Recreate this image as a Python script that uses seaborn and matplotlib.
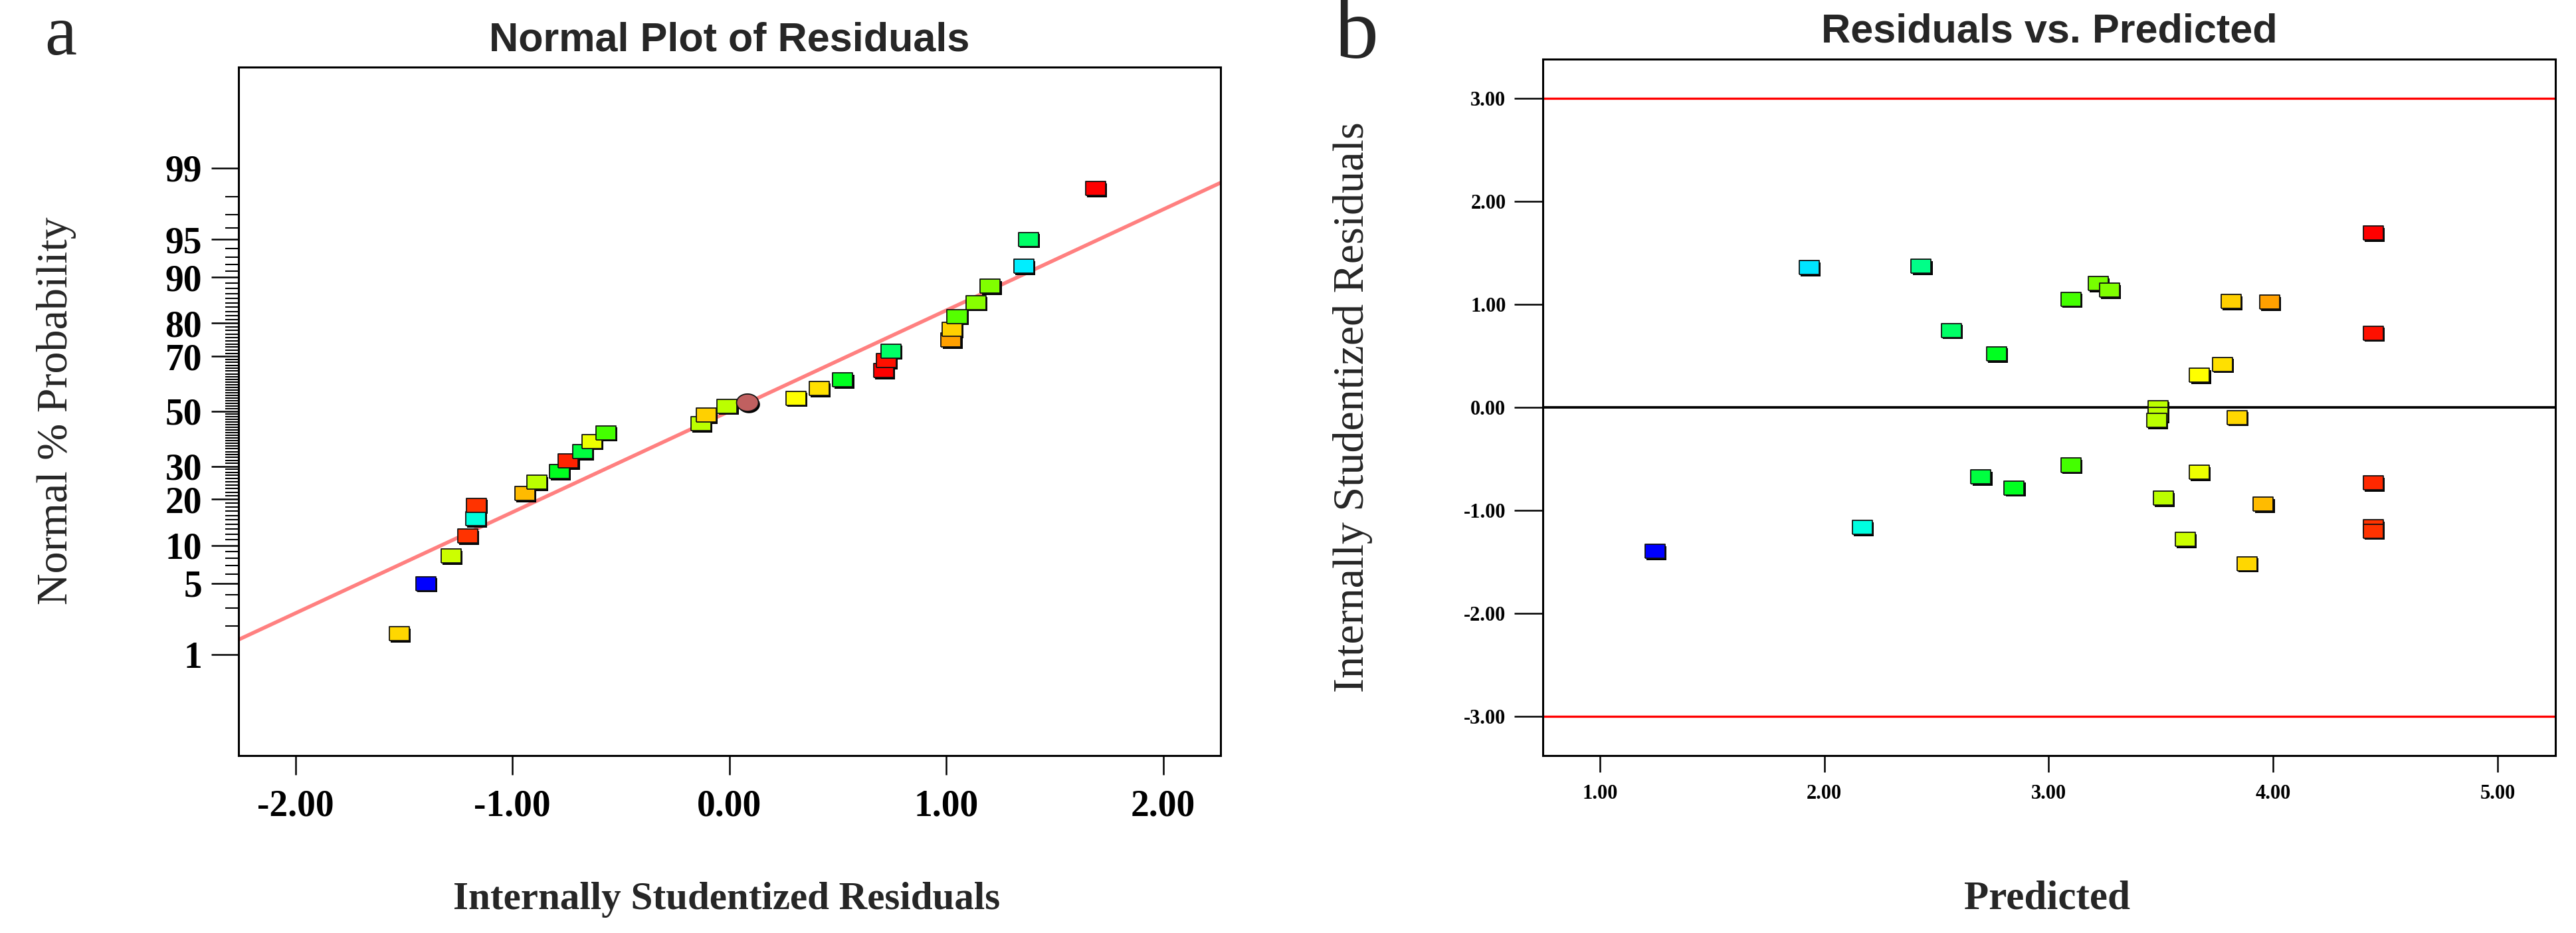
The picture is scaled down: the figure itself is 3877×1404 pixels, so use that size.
import statistics
import numpy as np
import pandas as pd
import matplotlib
matplotlib.use("Agg")
import matplotlib.pyplot as plt
import matplotlib.patheffects as pe
from matplotlib.markers import MarkerStyle
from matplotlib.ticker import NullFormatter
import seaborn as sns

# ---------------- data ----------------
# panel a : normal probability plot (residual, normal % probability, colour)
resid_a = [-1.521, -1.399, -1.283, -1.205, -1.170, -1.166, -0.942, -0.887,
           -0.783, -0.742, -0.675, -0.632, -0.569, -0.132, -0.106, -0.010,
           0.308, 0.415, 0.523, 0.711, 0.723, 0.745, 1.022, 1.026,
           1.050, 1.138, 1.203, 1.358, 1.379, 1.687]
prob_a = [1.67, 4.99, 8.33, 11.7, 15.2, 18.5, 21.6, 24.95,
          28.3, 31.8, 35.05, 38.7, 41.9, 45.3, 48.6, 52.0,
          55.0, 58.6, 61.8, 65.2, 68.7, 71.8, 75.2, 78.4,
          81.8, 85.1, 88.4, 91.7, 95.0, 98.35]
colors_a = ["#FFD700", "#0000FF", "#CCFF00", "#FF3300", "#00FFDD", "#FF3300",
            "#FFBB00", "#BBFF00", "#00FF20", "#FF2200", "#00FF40", "#EEFF00",
            "#44FF00", "#BBFF00", "#FFD000", "#BBFF00", "#FFFF00", "#FFE000",
            "#00FF20", "#FF0000", "#FF1000", "#00FF66", "#FFA000", "#FFD000",
            "#55FF00", "#88FF00", "#80FF00", "#00EEFF", "#00FF66", "#FF0000"]
circle_resid = [0.084]
circle_prob = [53.3]
circle_color = "#C06060"
fit_slope = 0.965
fit_intercept = 0.0

# panel b : residuals vs predicted
pred_b = [1.245, 1.933, 2.169, 2.431, 2.567, 2.768, 2.698, 2.846,
          3.100, 3.100, 3.220, 3.270, 3.487, 3.487, 3.482, 3.510,
          3.608, 3.672, 3.670, 3.774, 3.813, 3.840, 3.883, 3.984,
          3.956, 4.447, 4.447, 4.447, 4.447, 4.447]
resid_b = [-1.397, 1.359, -1.166, 1.371, 0.748, 0.522, -0.672, -0.780,
           1.051, -0.560, 1.201, 1.139, 0.000, -0.067, -0.125, -0.881,
           -1.279, 0.311, -0.630, 0.419, 1.027, -0.097, -1.515, 1.021,
           -0.939, 1.692, 0.722, -0.733, -1.157, -1.199]
colors_b = ["#0000FF", "#00E5FF", "#00FFE0", "#00FF88", "#00FF66", "#00FF20",
            "#00FF40", "#00FF20", "#44FF00", "#44FF00", "#77FF00", "#80FF00",
            "#BBFF00", "#BBFF00", "#BBFF00", "#BBFF00", "#CCFF00", "#FFFF00",
            "#EEFF00", "#FFE000", "#FFD000", "#FFD700", "#FFD700", "#FFA000",
            "#FFBB00", "#FF0000", "#FF1000", "#FF2800", "#FF3300", "#FF3300"]
limit_lines = [-3.0, 3.0]

prob_ticks = [1, 5, 10, 20, 30, 50, 70, 80, 90, 95, 99]
x_ticks_a = [-2.0, -1.0, 0.0, 1.0, 2.0]
x_ticks_b = [1.0, 2.0, 3.0, 4.0, 5.0]
y_ticks_b = [-3.0, -2.0, -1.0, 0.0, 1.0, 2.0, 3.0]

# ---------------- style ----------------
sns.set_style("white")
SERIF = ["Liberation Serif", "DejaVu Serif"]
SANS = ["Liberation Sans Narrow", "Liberation Sans", "DejaVu Sans"]
plt.rcParams["font.family"] = SERIF
plt.rcParams["axes.edgecolor"] = "black"
plt.rcParams["axes.linewidth"] = 2.2
plt.rcParams["xtick.color"] = "black"
plt.rcParams["ytick.color"] = "black"

# probit scale for the normal plot
nd = statistics.NormalDist()
_ppf = np.vectorize(nd.inv_cdf, otypes=[float])
_cdf = np.vectorize(nd.cdf, otypes=[float])


def to_z(p):
    p = np.clip(np.asarray(p, dtype=float), 1e-9, 100 - 1e-9)
    return _ppf(p / 100.0)


def to_p(z):
    return _cdf(np.asarray(z, dtype=float)) * 100.0


# rectangular marker with black edge and drop shadow
rect_marker = MarkerStyle([(-1, -0.7), (1, -0.7), (1, 0.7), (-1, 0.7), (-1, -0.7)])
t = np.linspace(0, 2 * np.pi, 60)
ellipse_marker = MarkerStyle(list(zip(np.cos(t), 0.79 * np.sin(t))))
shadow = [pe.SimplePatchShadow(offset=(1.6, -2.0), shadow_rgbFace="black", alpha=1.0),
          pe.Normal()]

fig = plt.figure(figsize=(38.77, 14.04), dpi=100, facecolor="w")
ax_a = fig.add_axes([0.0926, 0.1902, 0.3812, 0.7379])
ax_b = fig.add_axes([0.5989, 0.1902, 0.3931, 0.7467])

### a : Normal Plot of Residuals ###
xlim_a = (-2.262, 2.264)
ax_a.set_yscale("function", functions=(to_z, to_p))
ax_a.set_xlim(*xlim_a)
ax_a.set_ylim(0.05, 99.95)

x_line = np.array(xlim_a)
p_line = to_p(fit_intercept + fit_slope * x_line)
ax_a.plot(x_line, p_line, color="#FF8080", lw=4.0, zorder=2, solid_capstyle="butt")

df_a = pd.DataFrame({"resid": resid_a, "prob": prob_a,
                     "pt": [f"a{i}" for i in range(len(resid_a))]})
sns.scatterplot(data=df_a, x="resid", y="prob", hue="pt",
                palette=dict(zip(df_a["pt"], colors_a)), marker=rect_marker,
                s=467, edgecolor="#111111", linewidth=1.3, legend=False,
                ax=ax_a, zorder=3)
ax_a.collections[-1].set_path_effects(shadow)
sns.scatterplot(x=circle_resid, y=circle_prob, color=circle_color,
                marker=ellipse_marker, s=566, edgecolor="#111111", linewidth=1.3,
                legend=False, ax=ax_a, zorder=4)
ax_a.collections[-1].set_path_effects(shadow)

ax_a.set_xticks(x_ticks_a, labels=[f"{v:.2f}" for v in x_ticks_a],
                fontsize=40, fontweight="bold")
ax_a.set_yticks(prob_ticks, labels=[str(p) for p in prob_ticks],
                fontsize=40, fontweight="bold")
ax_a.set_yticks([v for v in range(1, 100) if v not in prob_ticks], minor=True)
ax_a.yaxis.set_minor_formatter(NullFormatter())
ax_a.tick_params(axis="x", direction="out", length=20.6, width=1.8, pad=16,
                 bottom=True)
ax_a.tick_params(axis="y", which="major", direction="out", length=29.5,
                 width=1.8, pad=10, left=True)
ax_a.tick_params(axis="y", which="minor", direction="out", length=14.4,
                 width=1.5, left=True)

ax_a.set_title("Normal Plot of Residuals", fontsize=44, fontweight="bold",
               family=SANS, y=1.0154, va="baseline")
ax_a.set_xlabel("Internally Studentized Residuals", fontsize=42.5,
                fontweight="bold", va="baseline")
ax_a.xaxis.set_label_coords(0.497, -0.223)
ax_a.set_ylabel("Normal % Probability", fontsize=47.5, va="center")
ax_a.yaxis.set_label_coords(-0.1854, 0.501)

### b : Residuals vs. Predicted ###
ax_b.set_xlim(0.745, 5.258)
ax_b.set_ylim(-3.378, 3.383)
for v in limit_lines:
    ax_b.axhline(v, color="#FF0000", lw=2.4, zorder=2)
ax_b.axhline(0.0, color="black", lw=2.7, zorder=2)

df_b = pd.DataFrame({"pred": pred_b, "resid": resid_b,
                     "pt": [f"b{i}" for i in range(len(pred_b))]})
sns.scatterplot(data=df_b, x="pred", y="resid", hue="pt",
                palette=dict(zip(df_b["pt"], colors_b)), marker=rect_marker,
                s=467, edgecolor="#111111", linewidth=1.3, legend=False,
                ax=ax_b, zorder=3)
ax_b.collections[-1].set_path_effects(shadow)

ax_b.set_xticks(x_ticks_b, labels=[f"{v:.2f}" for v in x_ticks_b],
                fontsize=22, fontweight="bold")
ax_b.set_yticks(y_ticks_b, labels=[f"{v:.2f}" for v in y_ticks_b],
                fontsize=22, fontweight="bold")
ax_b.tick_params(axis="x", direction="out", length=18, width=1.8, pad=13,
                 bottom=True)
ax_b.tick_params(axis="y", direction="out", length=31, width=1.8, pad=9,
                 left=True)

ax_b.set_title("Residuals vs. Predicted", fontsize=44, fontweight="bold",
               family=SANS, y=1.0162, va="baseline")
ax_b.set_xlabel("Predicted", fontsize=44, fontweight="bold", va="baseline")
ax_b.xaxis.set_label_coords(0.498, -0.2203)
ax_b.set_ylabel("Internally Studentized Residuals", fontsize=47.5, va="center")
ax_b.yaxis.set_label_coords(-0.1877, 0.5)

for ax in (ax_a, ax_b):
    for sp in ax.spines.values():
        sp.set_visible(True)
        sp.set_color("black")
        sp.set_linewidth(2.2)

fig.text(91 / 3877, 1 - 82 / 1404, "a", fontsize=78, ha="center", va="baseline")
fig.text(2042 / 3877, 1 - 87 / 1404, "b", fontsize=95, ha="center", va="baseline")

fig.savefig("out.png", dpi=100, facecolor="w")
